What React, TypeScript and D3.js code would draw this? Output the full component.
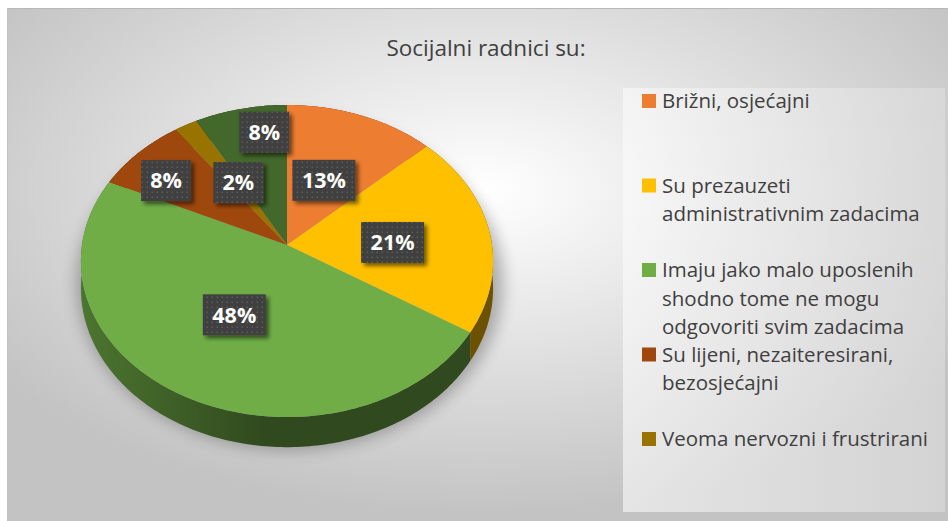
import React from "react";
import * as d3 from "d3";

const categories = [
  "Brižni, osjećajni",
  "Su prezauzeti administrativnim zadacima",
  "Imaju jako malo uposlenih shodno tome ne mogu odgovoriti svim zadacima",
  "Su lijeni, nezaiteresirani, bezosjećajni",
  "Veoma nervozni i frustrirani",
  "Ostalo",
];
const values = [13, 21, 48, 8, 2, 8];
const labels = ["13%", "21%", "48%", "8%", "2%", "8%"];
const colors = ["#ED7D31", "#FFC000", "#70AD47", "#9E480E", "#997300", "#43682B"];
// legend shows only the first five entries (the sixth is cut off in the original)
const legendCount = 5;

const W = 948;
const H = 521;

// pseudo-3D projection of the pie disc
const cx = 287;
const cy = 245;
const rx = 205;
const ry = 154.4;
const persp = -0.1026;
const depth = 27;

const project = (a: number, f: number, down = 0): [number, number] => {
  const u = f * Math.sin(a);
  const v = -f * Math.cos(a);
  const s = 1 + persp * v;
  return [cx + (rx * u) / s, cy + (ry * v + down) / s];
};

// label placement tweaks (Excel best fit)
const labelFrac = [0.5, 0.52, 0.5, 0.75, 0.5, 0.8];
const labelNudge: [number, number][] = [
  [-2, 3], [0, 5], [-1, -1], [-8, 6], [4, 0], [15, -2],
];

const wrap = (text: string, max: number) => {
  const lines: string[] = [];
  let cur = "";
  text.split(" ").forEach(w => {
    const next = cur ? cur + " " + w : w;
    if (next.length > max && cur) {
      lines.push(cur);
      cur = w;
    } else cur = next;
  });
  if (cur) lines.push(cur);
  return lines;
};

const line = d3.line<[number, number]>();

const App = () => {
  const arcs = d3.pie<number>().sort(null).value(d => d)(values);
  const step = Math.PI / 180;

  const edge = (a0: number, a1: number, down: number) =>
    d3.range(a0, a1, step).concat([a1]).map(a => project(a, 1, down));

  const sides = arcs
    .map((d, i) => {
      const top = edge(d.startAngle, d.endAngle, 0);
      const bottom = edge(d.startAngle, d.endAngle, depth).reverse();
      const mid = (d.startAngle + d.endAngle) / 2;
      return { i, path: line(top.concat(bottom)) + "Z", z: -Math.cos(mid) };
    })
    .sort((a, b) => a.z - b.z);

  const legendY = d3
    .scalePoint<number>()
    .domain(d3.range(legendCount))
    .range([101, 439]);

  const font = "'Open Sans', 'DejaVu Sans', sans-serif";

  return (
    <svg
      width={W}
      height={H}
      style={{ position: "fixed", left: 0, top: 0, background: "#fff" }}
    >
      <defs>
        <radialGradient id="bg" cx="50%" cy="35%" r="62%">
          <stop offset="0%" stopColor="#ffffff" />
          <stop offset="100%" stopColor="#c3c3c3" />
        </radialGradient>
        <linearGradient id="legendBg" x1="0" x2="1" y1="0" y2="0">
          <stop offset="0%" stopColor="#fbfbfb" />
          <stop offset="100%" stopColor="#dedede" />
        </linearGradient>
        {colors.map((c, i) => (
          <linearGradient
            key={i}
            id={"side" + i}
            gradientUnits="userSpaceOnUse"
            x1={cx - rx}
            x2={cx + rx}
            y1="0"
            y2="0"
          >
            <stop offset="0%" stopColor={d3.color(c)!.darker(1.1).formatHex()} />
            <stop offset="45%" stopColor={d3.color(c)!.darker(2.4).formatHex()} />
            <stop offset="100%" stopColor={d3.color(c)!.darker(2.4).formatHex()} />
          </linearGradient>
        ))}
        <filter id="pieShadow" x="-20%" y="-20%" width="140%" height="140%">
          <feGaussianBlur stdDeviation="8" />
        </filter>
        <filter id="boxShadow" x="-30%" y="-30%" width="160%" height="160%">
          <feGaussianBlur in="SourceAlpha" stdDeviation="2" />
          <feOffset dx="3" dy="3" result="b" />
          <feComponentTransfer>
            <feFuncA type="linear" slope="0.55" />
          </feComponentTransfer>
          <feMerge>
            <feMergeNode />
            <feMergeNode in="SourceGraphic" />
          </feMerge>
        </filter>
        <pattern id="dots" width="5" height="5" patternUnits="userSpaceOnUse">
          <rect width="5" height="5" fill="#404040" />
          <rect x="1.5" y="1.5" width="1.5" height="1.5" fill="#5c5c5c" />
        </pattern>
      </defs>

      {/* chart area */}
      <rect x={7} y={8} width={W} height={H} fill="url(#bg)" />
      <line x1={7} x2={W} y1={8.5} y2={8.5} stroke="#b8b8b8" />
      <line x1={7.5} x2={7.5} y1={8} y2={H} stroke="#c0c0c0" />

      <text
        x={486}
        y={56}
        textAnchor="middle"
        fontFamily={font}
        fontWeight={400}
        fontSize={22.5}
        fill="#404040"
      >
        Socijalni radnici su:
      </text>

      {/* shadow under pie */}
      <ellipse
        cx={cx + 3}
        cy={cy + 38}
        rx={rx + 8}
        ry={ry + 12}
        fill="#000"
        opacity={0.28}
        filter="url(#pieShadow)"
      />

      {/* pie sides */}
      {sides.map(s => (
        <path key={"s" + s.i} d={s.path} fill={`url(#side${s.i})`} />
      ))}

      {/* pie tops */}
      {arcs.map((d, i) => {
        const pts = [project(0, 0)].concat(edge(d.startAngle, d.endAngle, 0));
        return <path key={"t" + i} d={line(pts) + "Z"} fill={colors[i]} />;
      })}

      {/* data labels */}
      {arcs.map((d, i) => {
        const mid = (d.startAngle + d.endAngle) / 2;
        const [px, py] = project(mid, labelFrac[i]);
        const x = px + labelNudge[i][0];
        const y = py + labelNudge[i][1];
        const bw = 24 + labels[i].length * 13;
        const bh = 41;
        return (
          <g key={"l" + i}>
            <rect
              x={x - bw / 2}
              y={y - bh / 2}
              width={bw}
              height={bh}
              fill="url(#dots)"
              filter="url(#boxShadow)"
            />
            <text
              x={x}
              y={y}
              dy="0.36em"
              textAnchor="middle"
              fontFamily={font}
              fontWeight={700}
              fontSize={21.5}
              fill="#ffffff"
            >
              {labels[i]}
            </text>
          </g>
        );
      })}

      {/* legend */}
      <rect x={623} y={88} width={322} height={424} fill="url(#legendBg)" opacity={0.6} />
      {d3.range(legendCount).map(i => {
        const y0 = legendY(i)!;
        const lines = wrap(categories[i], 28);
        return (
          <g key={"g" + i}>
            <rect x={642} y={y0 - 7} width={14} height={14} fill={colors[i]} />
            <text fontFamily={font} fontSize={20.5} fill="#404040">
              {lines.map((t, j) => (
                <tspan key={j} x={662} y={y0 + j * 28.5} dy="0.35em">
                  {t}
                </tspan>
              ))}
            </text>
          </g>
        );
      })}
    </svg>
  );
};

export default App;
